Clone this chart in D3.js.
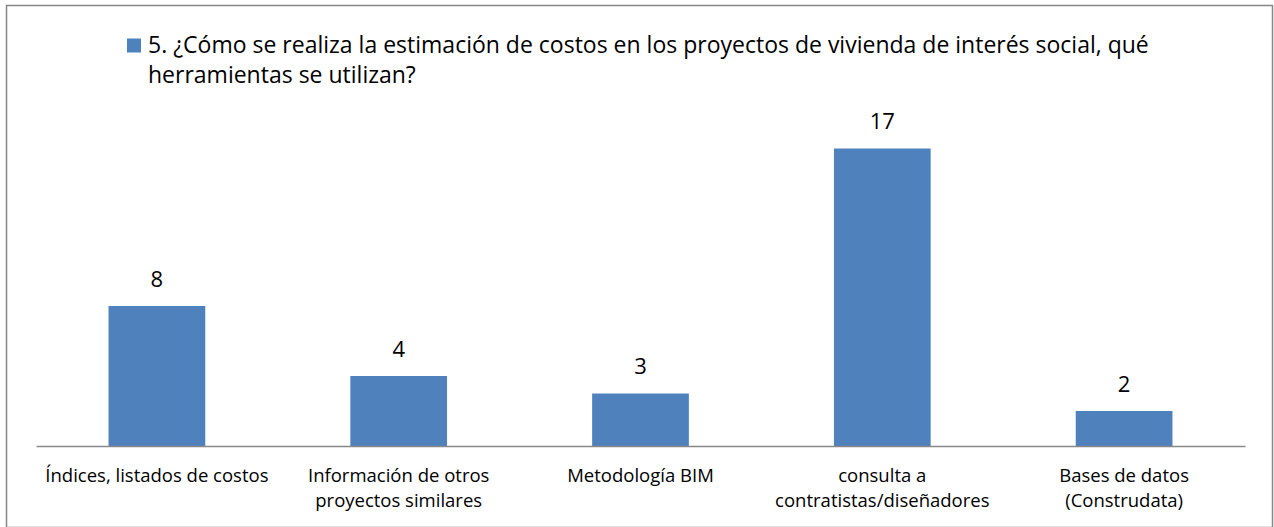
<!DOCTYPE html>
<html>
<head>
<meta charset="utf-8">
<script src="https://cdn.jsdelivr.net/npm/d3@7"></script>
<style>
  html, body { margin: 0; padding: 0; background: #fff; }
  svg { display: block; }
  text { font-family: "Open Sans", Lato, sans-serif; fill: #000; }
</style>
</head>
<body>
<svg id="chart" width="1274" height="527"></svg>
<script>
const categories = [
  "Índices, listados de costos",
  "Información de otros proyectos similares",
  "Metodología BIM",
  "consulta a contratistas/diseñadores",
  "Bases de datos (Construdata)"
];
const categoryLines = [
  ["Índices, listados de costos"],
  ["Información de otros", "proyectos similares"],
  ["Metodología BIM"],
  ["consulta a", "contratistas/diseñadores"],
  ["Bases de datos", "(Construdata)"]
];
const values = [8, 4, 3, 17, 2];
const seriesName = ["5. ¿Cómo se realiza la estimación de costos en los proyectos de vivienda de interés social, qué", "herramientas se utilizan?"];

const barColor = "#4F81BD";
const svg = d3.select("#chart");

// outer border
svg.append("rect")
  .attr("x", 6.5).attr("y", 5.5)
  .attr("width", 1266).attr("height", 522)
  .attr("fill", "#fff").attr("stroke", "#868686").attr("stroke-width", 1.5);

const x = d3.scaleBand()
  .domain(categories)
  .range([36, 1245])
  .paddingInner(0.6)
  .paddingOuter(0.3);

const y = d3.scaleLinear().domain([0, 20]).range([446, 96]);

// bars
svg.append("g").selectAll("rect")
  .data(values)
  .join("rect")
  .attr("x", (d, i) => x(categories[i]))
  .attr("y", d => y(d))
  .attr("width", x.bandwidth())
  .attr("height", d => y(0) - y(d))
  .attr("fill", barColor);

// value labels
svg.append("g").selectAll("text")
  .data(values)
  .join("text")
  .attr("x", (d, i) => x(categories[i]) + x.bandwidth() / 2)
  .attr("y", d => y(d) - 19.5)
  .attr("text-anchor", "middle")
  .attr("font-size", 22)
  .text(d => d);

// x axis
const xAxis = d3.axisBottom(x).tickSize(0).tickFormat("");
const ax = svg.append("g").attr("transform", `translate(0,${y(0)})`).call(xAxis);
ax.select(".domain").attr("stroke", "#898989").attr("stroke-width", 1.5);

// category labels
const lab = svg.append("g").selectAll("text")
  .data(categories)
  .join("text")
  .attr("x", d => x(d) + x.bandwidth() / 2)
  .attr("y", 482)
  .attr("text-anchor", "middle")
  .attr("font-size", 18.5);
lab.each(function(d, i) {
  const t = d3.select(this);
  categoryLines[i].forEach((line, j) => {
    t.append("tspan")
      .attr("x", x(d) + x.bandwidth() / 2)
      .attr("dy", j === 0 ? 0 : 25)
      .text(line);
  });
});

// legend
const legend = svg.append("g");
legend.append("rect")
  .attr("x", 127).attr("y", 38.5)
  .attr("width", 14).attr("height", 14)
  .attr("fill", barColor);
const lt = legend.append("text")
  .attr("x", 148).attr("y", 53)
  .attr("font-size", 23);
seriesName.forEach((line, j) => {
  lt.append("tspan").attr("x", 148).attr("dy", j === 0 ? 0 : 30).text(line);
});
</script>
</body>
</html>
